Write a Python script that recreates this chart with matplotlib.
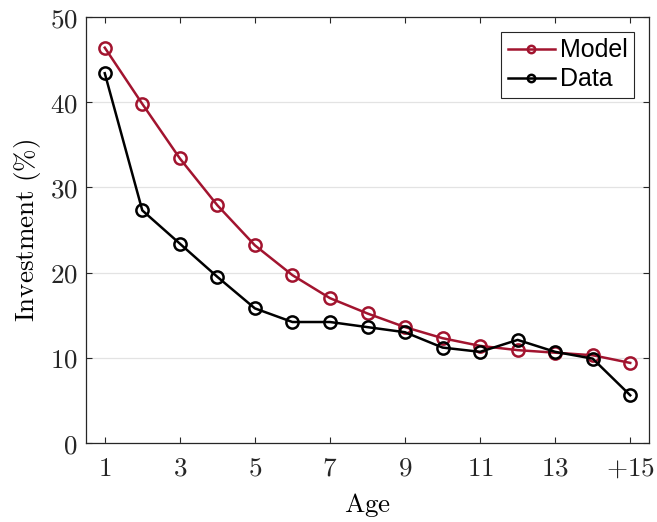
import matplotlib
matplotlib.use("Agg")
import matplotlib.pyplot as plt

ages = list(range(1, 16))
xtick_pos = [1, 3, 5, 7, 9, 11, 13, 15]
xtick_labels = ["1", "3", "5", "7", "9", "11", "13", "+15"]
model = [46.4, 39.8, 33.4, 27.9, 23.2, 19.7, 17.0, 15.2, 13.6, 12.3, 11.4, 10.9, 10.6, 10.3, 9.4]
data = [43.4, 27.3, 23.4, 19.5, 15.8, 14.2, 14.2, 13.6, 13.0, 11.2, 10.7, 12.1, 10.7, 9.9, 5.6]
yticks = [0, 10, 20, 30, 40, 50]

plt.rcParams['mathtext.fontset'] = 'cm'

fig = plt.figure(figsize=(6.57, 5.22), dpi=100)
ax = fig.add_axes([86/657, 1 - 443/522, (649-86)/657, (443-17)/522])

red = '#A2142F'
ax.plot(ages, model, '-o', color=red, lw=1.8, ms=8.8, mfc='none', mew=1.8, label='Model')
ax.plot(ages, data, '-o', color='black', lw=1.8, ms=8.8, mfc='none', mew=1.8, label='Data')

ax.set_xlim(0.5, 15.5)
ax.set_ylim(0, 50)
ax.set_xticks(xtick_pos)
ax.set_xticklabels(['$' + t + '$' for t in xtick_labels], fontsize=19.5)
ax.set_yticks(yticks)
ax.set_yticklabels(['$%d$' % v for v in yticks], fontsize=19.5)
ax.yaxis.grid(True, color='#e3e3e3', lw=0.9)
ax.set_axisbelow(True)
ax.tick_params(direction='in', top=True, right=True, length=4, width=0.8, colors='#262626')
ax.tick_params(axis='x', pad=9)
ax.tick_params(axis='y', pad=6)
for s in ax.spines.values():
    s.set_color('#262626')
    s.set_linewidth(0.9)

ax.set_xlabel(r'$\mathrm{Age}$', fontsize=19.5, labelpad=7)
ax.set_ylabel(r'$\mathrm{Investment\ (\%)}$', fontsize=19.5, labelpad=5)

leg = ax.legend(loc='upper right', prop={'family': 'Liberation Sans', 'size': 18},
                fancybox=False, edgecolor='#262626', framealpha=1,
                handlelength=1.9, handletextpad=0.2, borderpad=0.25, labelspacing=0.2,
                borderaxespad=0.6, markerscale=0.6)
leg.get_frame().set_linewidth(0.8)

fig.savefig('out.png', dpi=100)
